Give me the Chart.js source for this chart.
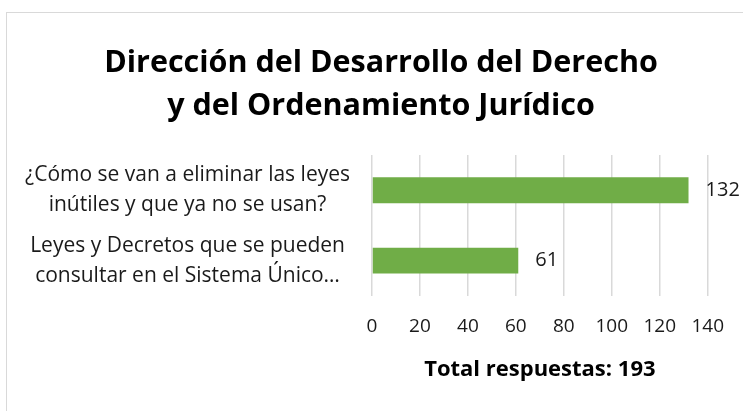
<!DOCTYPE html>
<html>
<head>
<meta charset="utf-8">
<script src="https://cdn.jsdelivr.net/npm/chart.js@4.4.1/dist/chart.umd.min.js"></script>
<style>
    html, body { margin: 0; padding: 0; background: #fff; overflow: hidden; }
    #frame { position: absolute; left: 6px; top: 12px; width: 900px; height: 600px; border: 1px solid #d9d9d9; }
    #wrap { position: absolute; left: 0; top: 0; width: 743px; height: 411px; }
</style>
</head>
<body>
<div id="frame"></div>
<div id="wrap"><canvas id="chart"></canvas></div>
<script>
// --- DATA ---
const categories = [
    ['¿Cómo se van a eliminar las leyes', 'inútiles y que ya no se usan?'],
    ['Leyes y Decretos que se pueden', 'consultar en el Sistema Único…']
];
const respuestas = [132, 61];
const xTicks = [0, 20, 40, 60, 80, 100, 120, 140];
const titleLines = ['Dirección del Desarrollo del Derecho', 'y del Ordenamiento Jurídico'];
const axisTitle = 'Total respuestas: 193';

const FONT = '"Open Sans", sans-serif';

// value labels at the bar ends
const barLabels = {
    id: 'barLabels',
    afterDatasetsDraw(chart) {
        const ctx = chart.ctx;
        const meta = chart.getDatasetMeta(0);
        ctx.save();
        ctx.font = '20px ' + FONT;
        ctx.fillStyle = '#1a1a1a';
        ctx.textAlign = 'left';
        ctx.textBaseline = 'middle';
        meta.data.forEach((bar, i) => {
            ctx.fillText(String(respuestas[i]), bar.x + 17, bar.y);
        });
        ctx.restore();
    }
};

// the title sits a bit right of the canvas centre
const titleShift = {
    id: 'titleShift',
    afterLayout(chart) {
        if (chart.titleBlock) {
            chart.titleBlock.left += 16;
            chart.titleBlock.right += 16;
        }
    }
};

new Chart(document.getElementById('chart'), {
    type: 'bar',
    data: {
        labels: categories,
        datasets: [{
            data: respuestas,
            backgroundColor: '#70ad47',
            barPercentage: 0.46,
            categoryPercentage: 0.8
        }]
    },
    options: {
        indexAxis: 'y',
        responsive: true,
        maintainAspectRatio: false,
        animation: false,
        layout: { padding: { left: 8, right: 21, top: 42, bottom: 28 } },
        plugins: {
            legend: { display: false },
            tooltip: { enabled: false },
            title: {
                display: true,
                text: titleLines,
                color: '#000',
                font: { family: FONT, size: 30.5, weight: 'bold', lineHeight: 1.41 },
                padding: { top: 0, bottom: 27 }
            }
        },
        scales: {
            x: {
                min: 0,
                max: 140,
                afterBuildTicks(axis) {
                    axis.ticks = xTicks.map(v => ({ value: v }));
                },
                grid: { color: '#d9d9d9', lineWidth: 1.5, drawTicks: false },
                border: { display: false },
                ticks: { color: '#1a1a1a', padding: 19, font: { family: FONT, size: 19 } },
                title: {
                    display: true,
                    text: axisTitle,
                    color: '#000',
                    font: { family: FONT, size: 22, weight: 'bold' },
                    padding: { top: 0, bottom: 0 }
                }
            },
            y: {
                grid: { display: false },
                border: { display: false },
                afterFit(axis) { axis.width = 364; },
                ticks: {
                    color: '#1a1a1a',
                    padding: 14,
                    autoSkip: false,
                    crossAlign: 'center',
                    font: { family: FONT, size: 21, lineHeight: 1.43 }
                }
            }
        }
    },
    plugins: [barLabels, titleShift]
});
</script>
</body>
</html>
